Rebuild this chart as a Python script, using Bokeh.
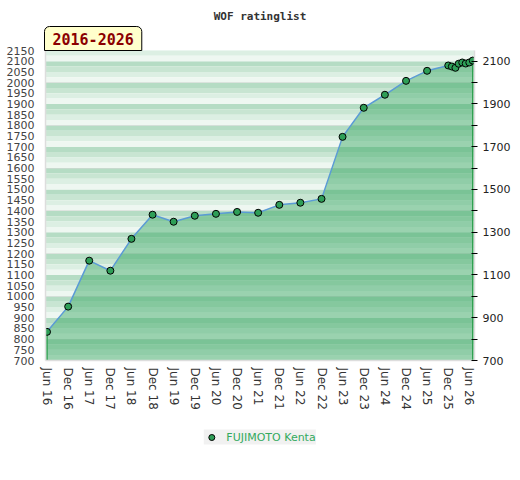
import pandas as pd
from bokeh.plotting import figure
from bokeh.layouts import column
from bokeh.models import (Range1d, LinearAxis, FixedTicker, DatetimeTickFormatter,
                          Title, Legend, LegendItem)
from bokeh.embed import file_html
from bokeh.resources import INLINE

# ---- data ----
dates = pd.to_datetime([
    "2016-06-01", "2016-12-01", "2017-06-01", "2017-12-01", "2018-06-01",
    "2018-12-01", "2019-06-01", "2019-12-01", "2020-06-01", "2020-12-01",
    "2021-06-01", "2021-12-01", "2022-06-01", "2022-12-01", "2023-06-01",
    "2023-12-01", "2024-06-01", "2024-12-01", "2025-06-01", "2025-12-01",
    "2026-01-01", "2026-02-01", "2026-03-01", "2026-04-01", "2026-05-01",
    "2026-06-01", "2026-07-01",
])
ratings = [834, 952, 1167, 1120, 1269, 1382, 1349, 1377, 1386, 1395,
           1391, 1428, 1438, 1456, 1746, 1882, 1943, 2008, 2055, 2080,
           2075, 2069, 2088, 2094, 2089, 2094, 2103]
player = "FUJIMOTO Kenta"
period_label = "2016-2026"
chart_title = "WOF ratinglist"

x_tick_dates = pd.to_datetime([f"{y}-{m:02d}-01" for y in range(2016, 2027) for m in (6, 12)
                               if not (y == 2026 and m == 12)])
left_ticks = list(range(700, 2151, 50))
right_major = list(range(700, 2101, 200))
right_minor = list(range(800, 2001, 200))

y_min, y_max = 700, 2150
x_start = pd.Timestamp("2016-05-19")
x_end = pd.Timestamp("2026-07-16")

PT_FILL, PT_LINE, PT_SIZE = "#2e9e57", "black", 7

p = figure(frame_width=429, frame_height=310,
           min_border_left=45, min_border_right=40, min_border_top=50, min_border_bottom=55,
           x_axis_type="datetime", x_range=Range1d(x_start, x_end), y_range=Range1d(y_min, y_max),
           output_backend="svg", toolbar_location=None, outline_line_color=None,
           background_fill_color="white", border_fill_color="white")

# background stripes (period 100, four shades from dark at top to light at bottom)
stripe_colors = ["#b5dcc4", "#c8e5d2", "#dcefe3", "#eef7f1"]
bots, tops, cols = [], [], []
for base in range(700, 2200, 100):
    for i in range(4):
        t = base + 100 - 25 * i
        tops.append(t)
        bots.append(t - 25)
        cols.append(stripe_colors[i])
p.quad(left=x_start, right=x_end, bottom=bots, top=tops, fill_color=cols, line_color=None)
p.hspan(y=right_minor, line_color="#d4d8d5", line_width=1, line_alpha=0.6)

# area under the rating line
p.varea(x=dates, y1=y_min, y2=ratings, fill_color="#32a55f", fill_alpha=0.45)
p.segment(x0=[dates[0], dates[-1]], x1=[dates[0], dates[-1]], y0=[y_min, y_min],
          y1=[ratings[0], ratings[-1]], line_color="#2fa050", line_width=1.5)
p.line(dates, ratings, line_color="#5b9bd5", line_width=1.5)
p.scatter(dates, ratings, size=PT_SIZE, fill_color=PT_FILL, line_color=PT_LINE, line_width=1)

p.xgrid.visible = False
p.ygrid.visible = False

# left axis
ya = p.yaxis[0]
ya.ticker = FixedTicker(ticks=left_ticks)
ya.major_label_text_font = "DejaVu Sans"
ya.major_label_text_font_size = "11px"
ya.major_label_text_color = "#444444"
ya.major_tick_line_color = None
ya.minor_tick_line_color = None
ya.major_tick_out = 0
ya.major_tick_in = 0
ya.major_label_standoff = 11
ya.axis_line_color = "#dddddd"
ya.axis_line_width = 1.5

# bottom axis
xa = p.xaxis[0]
xa.ticker = FixedTicker(ticks=[int(d.timestamp() * 1000) for d in x_tick_dates])
fmt = "%b %y"
xa.formatter = DatetimeTickFormatter(days=fmt, months=fmt, years=fmt, hours=fmt)
xa.major_label_orientation = "vertical"
xa.major_label_text_font = "DejaVu Sans"
xa.major_label_text_font_size = "12px"
xa.major_label_text_color = "#333333"
xa.major_tick_line_color = None
xa.minor_tick_line_color = None
xa.major_tick_out = 0
xa.major_tick_in = 0
xa.major_label_standoff = 7
xa.axis_line_color = "#dddddd"
xa.axis_line_width = 1.5

# right axis
ra = LinearAxis(ticker=FixedTicker(ticks=right_major, minor_ticks=right_minor))
ra.major_label_text_font = "DejaVu Sans"
ra.major_label_text_font_size = "11px"
ra.major_label_text_color = "#222222"
ra.major_tick_in = 3
ra.major_tick_out = 3
ra.minor_tick_in = 3
ra.minor_tick_out = 3
ra.minor_tick_line_color = "black"
ra.major_label_standoff = 5
ra.axis_line_color = "#dddddd"
ra.axis_line_width = 1.5
p.add_layout(ra, "right")

# title
p.title.text = chart_title
p.title.align = "center"
p.title.text_font = "DejaVu Sans Mono"
p.title.text_font_style = "bold"
p.title.text_font_size = "11px"
p.title.text_color = "#333333"
p.title.standoff = 4

# period box
period = Title(text=period_label, align="left", text_font="DejaVu Sans Mono",
               text_font_size="15px", text_color="#8b0000",
               background_fill_color="#ffffcc", border_line_color="black",
               border_line_width=1, standoff=0, padding=(8, 6), offset=-1,
               border_radius=(5, 5, 0, 0))
p.add_layout(period, "above")

# legend as a small strip below the chart
q = figure(width=p.frame_width + 85, height=44, toolbar_location=None, output_backend="svg",
           min_border_left=45, min_border_right=40, min_border_top=0, min_border_bottom=0,
           x_range=Range1d(0, 1), y_range=Range1d(0, 1), outline_line_color=None,
           background_fill_color="white", border_fill_color="white")
q.axis.visible = False
q.grid.visible = False
# same series, outside this strip's visible range: only its legend glyph shows
proxy = q.scatter(x=dates, y=ratings, size=PT_SIZE, fill_color=PT_FILL, line_color=PT_LINE,
                  line_width=1)
legend = Legend(items=[LegendItem(label=player, renderers=[proxy])], location="center",
                orientation="horizontal", background_fill_color="#f0f0f0",
                border_line_color=None, label_text_color="#33aa5e",
                label_text_font="DejaVu Sans", label_text_font_size="11px",
                padding=7, margin=0, glyph_width=15, glyph_height=15, label_height=15,
                label_standoff=8, spacing=0)
q.add_layout(legend, "center")

layout = column(p, q, spacing=0)
open("out.html", "w").write(file_html(layout, INLINE))
